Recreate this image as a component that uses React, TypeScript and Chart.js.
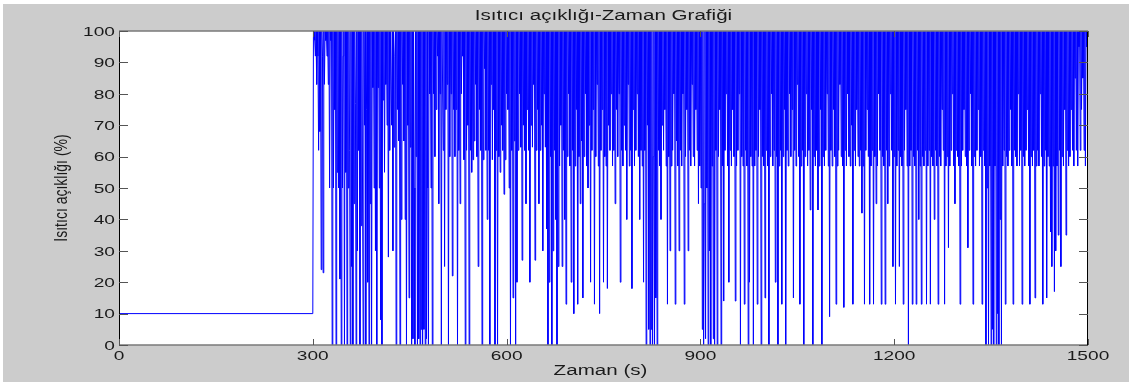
import React, { useEffect, useRef } from "react";
import { Chart, registerables } from "chart.js";

Chart.register(...registerables);

// ---- Data ----
const chartTitle = "Isıtıcı açıklığı-Zaman Grafiği";
const xAxisTitle = "Zaman (s)";
const yAxisTitle = "Isıtıcı açıklığı (%)";

const xTickValues = [0, 300, 600, 900, 1200, 1500];
const yTickValues = [0, 10, 20, 30, 40, 50, 60, 70, 80, 90, 100];

// constant opening before the controller starts
const preStartTimes = [0, 300];
const preStartValues = [10, 10];

// sampled every 1 s after t = 300 s
const sampleStep = 1;
const firstSampleTime = 301;

const opening300to600 = [
  100, 100, 97, 92, 100, 83, 100, 92, 62, 100,
  68, 100, 24, 100, 92, 23, 100, 83, 100, 97,
  100, 92, 100, 83, 100, 50, 100, 97, 100, 0,
  100, 50, 100, 75, 100, 0, 100, 55, 100, 50,
  100, 21, 100, 0, 100, 50, 92, 100, 0, 100,
  55, 100, 0, 100, 50, 100, 62, 0, 100, 25,
  100, 0, 100, 45, 100, 77, 0, 100, 30, 100,
  62, 100, 0, 100, 38, 100, 50, 0, 100, 70,
  100, 0, 75, 100, 20, 100, 0, 100, 45, 100,
  0, 100, 82, 100, 50, 100, 30, 100, 0, 100,
  82, 100, 50, 100, 8, 100, 0, 100, 78, 100,
  55, 100, 83, 100, 70, 100, 28, 100, 62, 100,
  100, 70, 100, 30, 100, 63, 92, 100, 0, 100,
  75, 100, 65, 100, 0, 100, 40, 100, 83, 100,
  65, 100, 40, 100, 0, 100, 70, 100, 15, 100,
  63, 100, 0, 100, 2, 100, 50, 0, 100, 60,
  100, 0, 100, 2, 100, 0, 100, 5, 100, 0,
  100, 5, 100, 0, 100, 2, 100, 50, 0, 100,
  80, 100, 50, 100, 0, 100, 80, 100, 60, 100,
  75, 100, 92, 100, 45, 100, 80, 100, 0, 100,
  100, 62, 100, 25, 100, 75, 100, 83, 100, 0,
  100, 60, 100, 80, 100, 22, 100, 75, 100, 60,
  100, 75, 100, 0, 100, 62, 100, 45, 100, 80,
  100, 92, 100, 59, 100, 0, 100, 62, 100, 70,
  100, 0, 100, 62, 100, 55, 100, 59, 100, 65,
  100, 83, 100, 60, 100, 25, 100, 75, 100, 62,
  100, 0, 100, 59, 100, 88, 100, 62, 100, 40,
  100, 62, 100, 0, 100, 83, 100, 59, 100, 75,
  100, 0, 100, 62, 100, 0, 100, 60, 100, 55,
  100, 70, 100, 62, 100, 48, 100, 59, 100, 80,
];

const opening600to900 = [
  100, 75, 100, 50, 100, 0, 100, 62, 100, 15,
  100, 65, 100, 0, 100, 20, 100, 62, 100, 80,
  100, 63, 100, 27, 100, 70, 100, 62, 100, 45,
  100, 75, 100, 62, 100, 20, 100, 70, 100, 63,
  100, 83, 100, 27, 100, 62, 100, 75, 100, 45,
  100, 62, 100, 70, 100, 30, 100, 80, 100, 63,
  100, 37, 100, 0, 100, 20, 100, 60, 100, 0,
  100, 30, 100, 62, 100, 40, 100, 0, 100, 25,
  100, 57, 100, 70, 100, 25, 100, 62, 100, 40,
  100, 13, 100, 60, 100, 80, 100, 57, 100, 20,
  100, 62, 100, 10, 100, 57, 100, 75, 100, 13,
  100, 60, 100, 45, 100, 65, 100, 15, 100, 60,
  100, 80, 100, 57, 100, 50, 100, 70, 100, 20,
  100, 62, 100, 75, 100, 13, 100, 60, 100, 83,
  100, 57, 100, 10, 100, 62, 100, 75, 100, 20,
  100, 60, 100, 57, 100, 18, 100, 70, 100, 62,
  100, 80, 100, 57, 100, 62, 100, 45, 100, 75,
  100, 60, 100, 80, 100, 20, 100, 62, 100, 57,
  100, 70, 100, 62, 100, 40, 100, 83, 100, 57,
  100, 62, 100, 18, 100, 75, 100, 57, 100, 62,
  100, 80, 100, 60, 100, 40, 100, 62, 100, 57,
  100, 20, 100, 62, 100, 0, 100, 70, 100, 5,
  100, 0, 100, 5, 100, 0, 60, 100, 0, 100,
  15, 100, 0, 100, 62, 100, 57, 100, 40, 100,
  70, 100, 62, 100, 75, 100, 57, 100, 13, 100,
  60, 100, 30, 100, 57, 100, 62, 100, 80, 100,
  13, 100, 65, 100, 57, 100, 30, 100, 62, 100,
  57, 100, 80, 100, 13, 100, 60, 100, 75, 100,
  30, 100, 62, 100, 57, 100, 83, 100, 60, 100,
  57, 100, 75, 100, 62, 100, 45, 100, 57, 100,
];

const opening900to1200 = [
  50, 100, 5, 100, 0, 45, 100, 2, 100, 50,
  100, 0, 100, 30, 100, 0, 100, 57, 100, 2,
  100, 0, 100, 62, 100, 0, 100, 60, 100, 75,
  100, 0, 100, 57, 100, 14, 100, 62, 100, 80,
  100, 57, 100, 20, 100, 62, 100, 57, 100, 75,
  100, 60, 100, 14, 100, 57, 100, 62, 100, 80,
  100, 0, 100, 60, 100, 57, 100, 13, 100, 62,
  100, 57, 100, 0, 100, 20, 100, 60, 100, 57,
  100, 0, 100, 57, 100, 62, 100, 13, 100, 60,
  100, 75, 100, 0, 100, 60, 100, 57, 100, 15,
  100, 62, 100, 57, 100, 0, 100, 60, 100, 80,
  100, 57, 100, 62, 100, 20, 100, 60, 100, 0,
  100, 57, 100, 62, 100, 13, 100, 60, 100, 75,
  100, 0, 100, 62, 100, 57, 100, 80, 100, 60,
  100, 75, 100, 15, 100, 62, 100, 57, 100, 83,
  100, 60, 100, 13, 100, 57, 100, 62, 100, 0,
  100, 60, 100, 80, 100, 57, 100, 62, 100, 43,
  100, 75, 100, 0, 100, 60, 100, 57, 100, 62,
  100, 43, 100, 57, 100, 75, 100, 0, 100, 60,
  100, 57, 100, 62, 100, 80, 100, 57, 100, 9,
  100, 62, 100, 57, 100, 75, 100, 60, 100, 13,
  100, 57, 100, 62, 100, 83, 100, 60, 100, 57,
  100, 12, 100, 62, 100, 57, 100, 80, 100, 60,
  100, 57, 100, 70, 100, 13, 100, 62, 100, 57,
  100, 75, 100, 60, 100, 57, 100, 62, 100, 42,
  100, 57, 100, 13, 100, 62, 100, 75, 100, 60,
  100, 13, 100, 57, 100, 62, 100, 13, 100, 60,
  100, 45, 100, 57, 100, 80, 100, 62, 100, 13,
  100, 60, 100, 57, 100, 13, 100, 62, 100, 45,
  100, 57, 100, 80, 100, 62, 100, 25, 100, 60,
];

const opening1200to1500 = [
  100, 13, 100, 57, 100, 62, 100, 25, 100, 60,
  100, 57, 100, 13, 100, 62, 100, 75, 100, 57,
  100, 0, 100, 57, 100, 62, 100, 13, 100, 60,
  100, 57, 100, 13, 100, 62, 100, 40, 100, 57,
  100, 13, 100, 60, 100, 57, 100, 62, 100, 13,
  100, 57, 100, 62, 100, 13, 100, 60, 100, 57,
  100, 40, 100, 62, 100, 57, 100, 13, 100, 60,
  100, 57, 100, 75, 100, 62, 100, 13, 100, 57,
  100, 60, 100, 31, 100, 57, 100, 62, 100, 80,
  100, 57, 100, 45, 100, 62, 100, 60, 100, 57,
  100, 13, 100, 57, 100, 62, 100, 75, 100, 60,
  100, 57, 100, 31, 100, 62, 100, 80, 100, 57,
  100, 13, 100, 60, 100, 57, 100, 62, 100, 75,
  100, 57, 100, 60, 100, 13, 100, 62, 100, 57,
  100, 0, 100, 50, 100, 0, 100, 57, 100, 0,
  100, 5, 100, 0, 100, 57, 100, 0, 100, 10,
  100, 0, 100, 40, 100, 0, 100, 57, 100, 62,
  100, 13, 100, 60, 100, 57, 100, 62, 100, 75,
  100, 57, 100, 13, 100, 62, 100, 60, 100, 57,
  100, 80, 100, 57, 100, 62, 100, 13, 100, 60,
  100, 57, 100, 62, 100, 75, 100, 57, 100, 13,
  100, 60, 100, 57, 100, 62, 100, 15, 100, 57,
  100, 62, 100, 57, 100, 80, 100, 60, 100, 13,
  100, 57, 100, 62, 100, 15, 100, 60, 100, 57,
  100, 36, 100, 25, 100, 57, 100, 17, 100, 30,
  100, 57, 100, 35, 100, 62, 100, 25, 100, 60,
  100, 57, 100, 75, 100, 35, 100, 62, 100, 57,
  100, 60, 100, 75, 100, 62, 100, 57, 100, 85,
  100, 62, 100, 57, 100, 95, 100, 62, 100, 75,
  100, 85, 100, 62, 100, 57, 100, 95, 100, 65,
];

// ---- Style ----
const FONT_FAMILY = '"Liberation Sans", Arial, Helvetica, sans-serif';
const TEXT_COLOR = "#1a1a1a";
const STRETCH_X = 1.47;

function buildPoints() {
  const pts: { x: number; y: number }[] = [];
  preStartTimes.forEach((t, i) => pts.push({ x: t, y: preStartValues[i] }));
  const sampled = [
    ...opening300to600,
    ...opening600to900,
    ...opening900to1200,
    ...opening1200to1500,
  ];
  sampled.forEach((v, i) => pts.push({ x: firstSampleTime + i * sampleStep, y: v }));
  return pts;
}

function drawStretched(
  ctx: CanvasRenderingContext2D,
  text: string,
  x: number,
  y: number,
  align: CanvasTextAlign,
  size: number,
  sx: number
) {
  ctx.save();
  ctx.translate(x, y);
  ctx.scale(sx, 1);
  ctx.font = `${size}px ${FONT_FAMILY}`;
  ctx.fillStyle = TEXT_COLOR;
  ctx.textAlign = align;
  ctx.textBaseline = "alphabetic";
  ctx.fillText(text, 0, 0);
  ctx.restore();
}

const matlabFrame = {
  id: "matlabFrame",
  beforeDraw(chart: any) {
    const { ctx, chartArea: a, width, height } = chart;
    ctx.save();
    ctx.fillStyle = "#ffffff";
    ctx.fillRect(0, 0, width, height);
    ctx.fillStyle = "#cccccc";
    ctx.fillRect(3, 4, width - 3, height - 5);
    ctx.fillStyle = "#ffffff";
    ctx.fillRect(a.left, a.top, a.right - a.left, a.bottom - a.top);
    ctx.restore();
  },
  afterDraw(chart: any) {
    const { ctx, chartArea: a } = chart;
    const xs = chart.scales.x;
    const ys = chart.scales.y;
    ctx.save();
    // box
    ctx.lineWidth = 1.5;
    ctx.strokeStyle = "#7a7a7a";
    ctx.beginPath();
    ctx.moveTo(a.left, a.top);
    ctx.lineTo(a.right, a.top);
    ctx.moveTo(a.left, a.bottom);
    ctx.lineTo(a.right, a.bottom);
    ctx.stroke();
    ctx.lineWidth = 1;
    ctx.strokeStyle = "#000000";
    ctx.beginPath();
    ctx.moveTo(Math.round(a.left) + 0.5, a.top);
    ctx.lineTo(Math.round(a.left) + 0.5, a.bottom);
    ctx.moveTo(Math.round(a.right) - 0.5, a.top);
    ctx.lineTo(Math.round(a.right) - 0.5, a.bottom);
    ctx.stroke();

    // ticks (inward)
    ctx.strokeStyle = "#555555";
    ctx.beginPath();
    xTickValues.forEach((v) => {
      const px = Math.round(xs.getPixelForValue(v)) + 0.5;
      ctx.moveTo(px, a.bottom);
      ctx.lineTo(px, a.bottom - 6);
      ctx.moveTo(px, a.top);
      ctx.lineTo(px, a.top + 6);
    });
    yTickValues.forEach((v) => {
      const py = Math.round(ys.getPixelForValue(v)) + 0.5;
      ctx.moveTo(a.left, py);
      ctx.lineTo(a.left + 9, py);
      ctx.moveTo(a.right, py);
      ctx.lineTo(a.right - 9, py);
    });
    ctx.stroke();
    ctx.restore();

    // tick labels
    xTickValues.forEach((v) => {
      const px = xs.getPixelForValue(v);
      drawStretched(ctx, String(v), px, a.bottom + 15, "center", 13, STRETCH_X);
    });
    yTickValues.forEach((v) => {
      const py = ys.getPixelForValue(v);
      drawStretched(ctx, String(v), a.left - 4, py + 4.7, "right", 13, STRETCH_X);
    });

    // titles
    drawStretched(ctx, chartTitle, (a.left + a.right) / 2, 20, "center", 14, STRETCH_X);
    drawStretched(ctx, xAxisTitle, (a.left + a.right) / 2 - 3, 375, "center", 14, STRETCH_X);

    ctx.save();
    ctx.translate(67, (a.top + a.bottom) / 2);
    ctx.scale(1.3, 1);
    ctx.rotate(-Math.PI / 2);
    ctx.font = `14px ${FONT_FAMILY}`;
    ctx.fillStyle = TEXT_COLOR;
    ctx.textAlign = "center";
    ctx.textBaseline = "alphabetic";
    ctx.fillText(yAxisTitle, 0, 0);
    ctx.restore();
  },
};

export default function App() {
  const canvasRef = useRef<HTMLCanvasElement | null>(null);

  useEffect(() => {
    document.body.style.margin = "0";
    const canvas = canvasRef.current;
    if (!canvas) return;
    const chart = new Chart(canvas, {
      type: "line",
      data: {
        datasets: [
          {
            data: buildPoints(),
            borderColor: "#0000ff",
            borderWidth: 1,
            pointRadius: 0,
            tension: 0,
            fill: false,
          },
        ],
      },
      options: {
        responsive: false,
        animation: false,
        devicePixelRatio: 1,
        layout: { padding: { left: 119, top: 31, right: 41, bottom: 38 } },
        scales: {
          x: { type: "linear", min: 0, max: 1500, display: false },
          y: { type: "linear", min: 0, max: 100, display: false },
        },
        plugins: {
          legend: { display: false },
          tooltip: { enabled: false },
          title: { display: false },
        },
      },
      plugins: [matlabFrame],
    });
    return () => chart.destroy();
  }, []);

  return (
    <div style={{ width: 1129, height: 383 }}>
      <canvas ref={canvasRef} width={1129} height={383} style={{ display: "block" }} />
    </div>
  );
}
